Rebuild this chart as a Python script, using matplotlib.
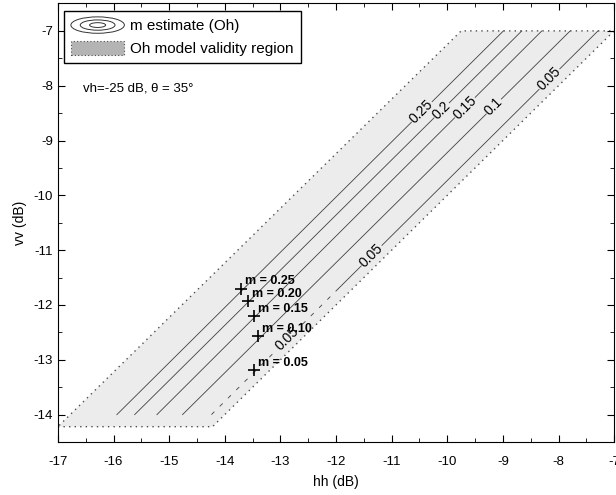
import numpy as np
import matplotlib
matplotlib.use("Agg")
import matplotlib.pyplot as plt
from matplotlib.patches import Polygon, Ellipse, Patch
from matplotlib.lines import Line2D
from matplotlib.legend_handler import HandlerBase

plt.rcParams['font.family'] = ['Liberation Sans', 'DejaVu Sans']
plt.rcParams['axes.unicode_minus'] = False

# validity region (hh, vv corners)
region_hh = [-17.0, -14.22, -7.0, -9.75]
region_vv = [-14.22, -14.22, -7.0, -7.0]

# contour lines of m: end points at vv=-14 and vv=-7
levels = [0.25, 0.2, 0.15, 0.1, 0.05]
level_text = ['0.25', '0.2', '0.15', '0.1', '0.05']
line_vv = [-14.0, -7.0]
line_hh = [
    [-15.94, -8.99],
    [-15.62, -8.66],
    [-15.22, -8.30],
    [-14.76, -7.79],
    [-14.24, -7.29],
]
# where the 0.05 line stops being solid
broken_vv = -11.7
# contour label positions (vv along each line)
label_vv = [[-8.48], [-8.45], [-8.40], [-8.38], [-7.88, -11.1, -12.62]]

# m estimates
m_text = ['m = 0.25', 'm = 0.20', 'm = 0.15', 'm = 0.10', 'm = 0.05']
m_hh = [-13.70, -13.58, -13.47, -13.40, -13.47]
m_vv = [-11.70, -11.93, -12.21, -12.57, -13.18]

fill_col = '#ececec'
line_col = '0.25'


class ContourHandler(HandlerBase):
    def create_artists(self, legend, orig_handle, xdescent, ydescent,
                       width, height, fontsize, trans):
        cx = width / 2 - xdescent
        cy = height / 2 - ydescent
        out = []
        for w, h in [(1.0, 1.2), (0.65, 0.75), (0.3, 0.35)]:
            out.append(Ellipse((cx, cy), width * w, height * h, fill=False,
                               edgecolor='0.2', lw=0.7, transform=trans))
        return out


fig = plt.figure(figsize=(6.16, 4.95), dpi=100)
ax = fig.add_axes([0.094, 0.107, 0.903, 0.886])

poly = Polygon(list(zip(region_hh, region_vv)), closed=True, facecolor=fill_col,
               edgecolor='0.3', linestyle=(0, (1, 3)), lw=1.0, zorder=1)
ax.add_patch(poly)

for i, lev in enumerate(levels):
    hh = line_hh[i]
    if lev == 0.05:
        hb = np.interp(broken_vv, line_vv, hh)
        ax.plot([hb, hh[1]], [broken_vv, line_vv[1]], color=line_col, lw=0.6, zorder=2)
        ax.plot([hh[0], hb], [line_vv[0], broken_vv], color=line_col, lw=0.6,
                linestyle=(0, (5, 9)), zorder=2)
    else:
        ax.plot(hh, line_vv, color=line_col, lw=0.6, zorder=2)
    for v in label_vv[i]:
        h = np.interp(v, line_vv, hh)
        ax.text(h, v, level_text[i], rotation=45, ha='center', va='center',
                fontsize=10, zorder=3,
                bbox=dict(boxstyle='square,pad=0.05', fc=fill_col, ec='none'))

ax.plot(m_hh, m_vv, linestyle='none', marker='+', markersize=8, mew=1.2,
        color='black', zorder=4)
for t, h, v in zip(m_text, m_hh, m_vv):
    ax.text(h + 0.07, v + 0.13, t, fontsize=9, fontweight='bold',
            ha='left', va='center', zorder=5)

ax.text(-16.55, -8.06, 'vh=-25 dB, θ = 35°', fontsize=9.5, ha='left', va='center')

ax.set_xlim(-17, -7)
ax.set_ylim(-14.5, -6.5)
ax.set_xticks(np.arange(-17, -6.5, 1))
ax.set_yticks(np.arange(-14, -6.5, 1))
ax.set_xticks(np.arange(-16.5, -7, 1), minor=True)
ax.set_yticks(np.arange(-14.5, -6.5, 1), minor=True)
ax.tick_params(which='both', direction='in', top=True, right=True, labelsize=9.5)
ax.tick_params(which='major', length=5)
ax.tick_params(which='minor', length=3)
ax.tick_params(axis='x', which='major', pad=10)
ax.set_xlabel('hh (dB)', fontsize=10, labelpad=5)
ax.set_ylabel('vv (dB)', fontsize=10, labelpad=5)

h1 = Line2D([], [])
h2 = Patch(facecolor='#b4b4b4', edgecolor='0.3', linestyle=(0, (1, 2)), lw=0.8)
ax.legend([h1, h2], ['m estimate (Oh)', 'Oh model validity region'],
          handler_map={Line2D: ContourHandler()}, loc='upper left',
          bbox_to_anchor=(0.011, 0.982), fontsize=11, fancybox=False,
          edgecolor='black', framealpha=1, handlelength=3.5, handleheight=1.0,
          handletextpad=0.4, borderpad=0.45, labelspacing=0.5, borderaxespad=0)

fig.savefig('out.png', dpi=100)
